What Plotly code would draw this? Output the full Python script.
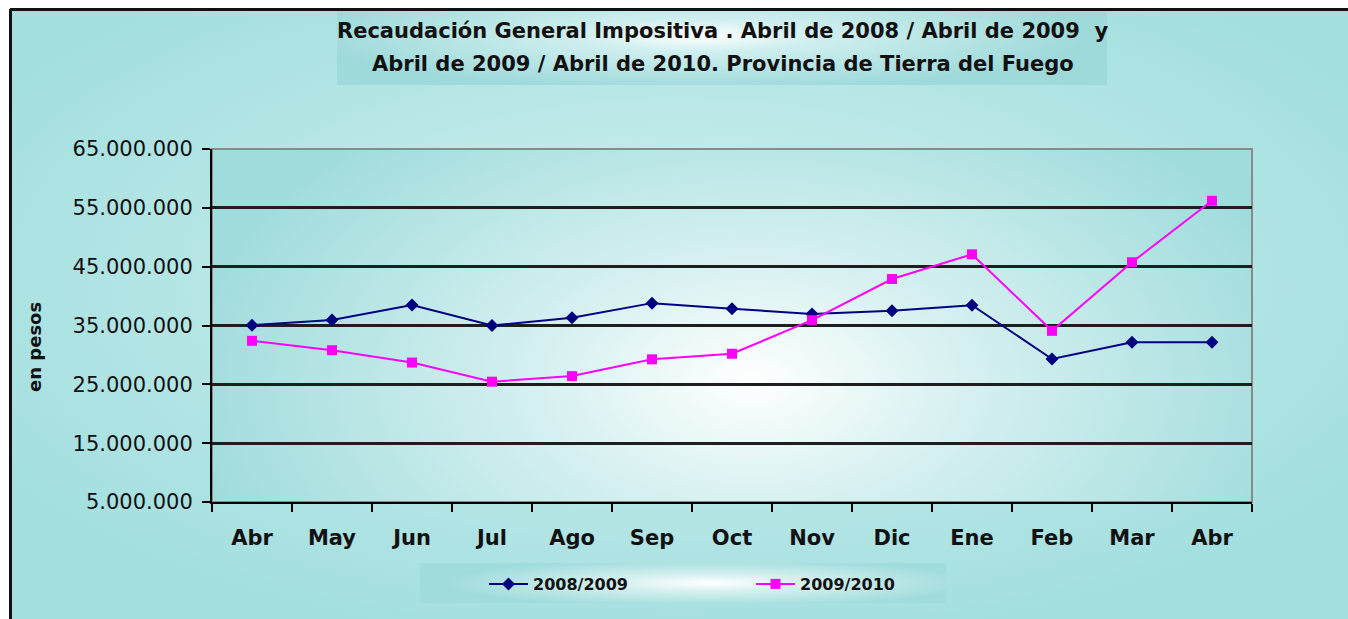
import base64
import plotly.graph_objects as go

# ---------------- data ----------------
months = ["Abr", "May", "Jun", "Jul", "Ago", "Sep", "Oct", "Nov", "Dic", "Ene", "Feb", "Mar", "Abr"]
serie_2008_2009 = [35050000, 35950000, 38500000, 35000000, 36300000, 38800000, 37850000,
                   36950000, 37500000, 38450000, 29300000, 32150000, 32150000]
serie_2009_2010 = [32400000, 30800000, 28700000, 25450000, 26400000, 29250000, 30200000,
                   35900000, 42900000, 47100000, 34100000, 45750000, 56200000]
series_names = ["2008/2009", "2009/2010"]
y_ticks = [5000000, 15000000, 25000000, 35000000, 45000000, 55000000, 65000000]
title_lines = ["Recaudación General Impositiva . Abril de 2008 / Abril de 2009  y",
               "Abril de 2009 / Abril de 2010. Provincia de Tierra del Fuego"]
y_title = "en pesos"

# ---------------- geometry (pixels) ----------------
W, H = 1348, 619
PL, PR, PT, PB = 212, 1252, 149, 502
pw, ph = PR - PL, PB - PT
FONT = "DejaVu Sans, Liberation Sans, Arial"


def px(x):
    return (x - PL) / pw


def py(y):
    return (PB - y) / ph


def grad_svg(w, h, cx, cy, rx, ry, inner, outer, mid=None):
    stops = f'<stop offset="0" stop-color="{inner}"/>'
    if mid:
        stops += f'<stop offset="{mid[0]}" stop-color="{mid[1]}"/>'
    stops += f'<stop offset="1" stop-color="{outer}"/>'
    # elliptical radial gradient in pixel space
    tr = f"translate({cx * w} {cy * h}) scale({rx * w} {ry * h})"
    svg = (f'<svg xmlns="http://www.w3.org/2000/svg" width="{w}" height="{h}" '
           f'viewBox="0 0 {w} {h}" preserveAspectRatio="none">'
           f'<defs><radialGradient id="g" gradientUnits="userSpaceOnUse" cx="0" cy="0" r="1" '
           f'gradientTransform="{tr}">{stops}'
           f'</radialGradient></defs><rect width="{w}" height="{h}" fill="url(#g)"/></svg>')
    return "data:image/svg+xml;base64," + base64.b64encode(svg.encode()).decode()


def img(src, x0, y0, x1, y1):
    return dict(source=src, xref="paper", yref="paper", x=px(x0), y=py(y0),
                sizex=(x1 - x0) / pw, sizey=(y1 - y0) / ph, xanchor="left",
                yanchor="top", sizing="stretch", layer="below")


images = [
    img(grad_svg(W - 10, H - 9, 0.5, 0.45, 0.6, 0.6, "#d2f0f0", "#a3dfdf"), 10, 9, W, H),
    img(grad_svg(pw, ph, 0.52, 0.66, 0.55, 0.95, "#ffffff", "#a0dcdc", (0.35, "#d8f1f1")), PL, PT, PR, PB),
    img(grad_svg(770, 76, 0.47, 0.35, 0.5, 0.7, "#ffffff", "#9fdada", (0.3, "#d0efef")), 337, 9, 1107, 85),
    img(grad_svg(526, 40, 0.55, 0.5, 0.5, 0.6, "#ffffff", "#a1dcdc", (0.35, "#d6f0f0")), 420, 563, 946, 603),
]

fig = go.Figure()
xs = list(range(len(months)))
fig.add_trace(go.Scatter(x=xs, y=serie_2008_2009, name=series_names[0], mode="lines+markers",
                         line=dict(color="#000080", width=2),
                         marker=dict(symbol="diamond", size=10, color="#000080")))
fig.add_trace(go.Scatter(x=xs, y=serie_2009_2010, name=series_names[1], mode="lines+markers",
                         line=dict(color="#ff00ff", width=2),
                         marker=dict(symbol="square", size=10, color="#ff00ff")))

shapes = [
    dict(type="rect", xref="paper", yref="paper", x0=0, y0=0, x1=1, y1=1,
         line=dict(color="#8a8a8a", width=2), layer="below"),
    dict(type="line", xref="paper", yref="paper", x0=px(10), y0=py(9.5), x1=px(W), y1=py(9.5),
         line=dict(color="#111111", width=3)),
    dict(type="line", xref="paper", yref="paper", x0=px(10.5), y0=py(9), x1=px(10.5), y1=py(H),
         line=dict(color="#111111", width=3)),
]

annotations = [
    dict(text=title_lines[0], xref="paper", yref="paper", x=px(722), y=py(31),
         showarrow=False, xanchor="center", yanchor="middle",
         font=dict(family=FONT, size=21, color="#111111", weight="bold")),
    dict(text=title_lines[1], xref="paper", yref="paper", x=px(723), y=py(64),
         showarrow=False, xanchor="center", yanchor="middle",
         font=dict(family=FONT, size=21, color="#111111", weight="bold")),
    dict(text=y_title, xref="paper", yref="paper", x=px(34), y=py(347),
         showarrow=False, xanchor="center", yanchor="middle", textangle=-90,
         font=dict(family=FONT, size=18, color="#111111", weight="bold")),
]

fig.update_layout(
    width=W, height=H,
    margin=dict(l=PL, r=W - PR, t=PT, b=H - PB, pad=0),
    paper_bgcolor="#ffffff", plot_bgcolor="rgba(0,0,0,0)",
    separators=",.",
    images=images, shapes=shapes, annotations=annotations,
    showlegend=True,
    legend=dict(orientation="h", x=px(484), xanchor="left", y=py(584), yanchor="middle",
                bgcolor="rgba(0,0,0,0)", entrywidth=213, entrywidthmode="pixels",
                itemwidth=39,
                font=dict(family=FONT, size=16, color="#111111", weight="bold"),
                itemclick=False),
)
fig.update_xaxes(range=[-0.5, len(months) - 0.5], tickmode="array", tickvals=xs,
                 ticktext=months, ticks="", showgrid=False,
                 zeroline=False, showline=True, linecolor="#000000", linewidth=2,
                 tickfont=dict(family=FONT, size=21, color="#111111", weight="bold"),
                 ticklabelstandoff=16,
                 minor=dict(tickmode="linear", tick0=-0.5, dtick=1, ticks="outside",
                            ticklen=8, tickwidth=2, tickcolor="#000000", showgrid=False))
fig.update_yaxes(range=[y_ticks[0], y_ticks[-1]], tickmode="array", tickvals=y_ticks,
                 tickformat=",.0f", ticks="outside", ticklen=8, tickwidth=2,
                 tickcolor="#000000", showline=True, linecolor="#000000", linewidth=2,
                 showgrid=True, gridcolor="#1e1e1e", gridwidth=2.5, zeroline=False,
                 tickfont=dict(family=FONT, size=21, color="#111111"),
                 ticklabelstandoff=5)

fig.write_html("out.html", config={"displayModeBar": False},
               post_script="document.body.style.margin='0px';")
